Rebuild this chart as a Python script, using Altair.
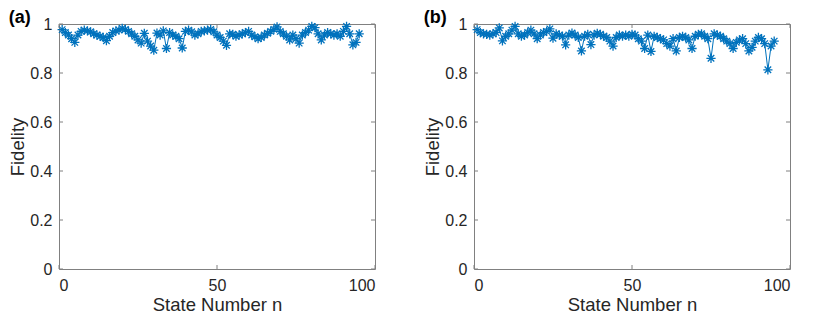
import altair as alt
import pandas as pd

# ---------------- data ----------------
n_a = list(range(1, 96))
fid_a = [0.977, 0.965, 0.955, 0.940, 0.925, 0.955, 0.970, 0.975, 0.972, 0.968,
         0.960, 0.955, 0.950, 0.945, 0.932, 0.950, 0.965, 0.972, 0.975, 0.982,
         0.978, 0.970, 0.960, 0.950, 0.935, 0.922, 0.962, 0.930, 0.910, 0.893,
         0.963, 0.955, 0.972, 0.900, 0.965, 0.955, 0.950, 0.940, 0.902, 0.970,
         0.975, 0.968, 0.955, 0.960, 0.970, 0.972, 0.975, 0.978, 0.968, 0.955,
         0.945, 0.930, 0.913, 0.960, 0.958, 0.950, 0.955, 0.960, 0.965, 0.970,
         0.955, 0.948, 0.940, 0.945, 0.955, 0.962, 0.970, 0.978, 0.988, 0.970,
         0.960, 0.950, 0.935, 0.955, 0.940, 0.922, 0.955, 0.965, 0.975, 0.990,
         0.985, 0.960, 0.935, 0.955, 0.965, 0.960, 0.955, 0.960, 0.950, 0.970,
         0.990, 0.960, 0.915, 0.925, 0.960]

n_b = list(range(1, 96))
fid_b = [0.977, 0.965, 0.960, 0.958, 0.955, 0.960, 0.965, 0.984, 0.931, 0.950,
         0.960, 0.975, 0.990, 0.960, 0.950, 0.955, 0.965, 0.975, 0.960, 0.940,
         0.955, 0.965, 0.970, 0.980, 0.942, 0.960, 0.955, 0.950, 0.915, 0.955,
         0.963, 0.955, 0.945, 0.890, 0.950, 0.958, 0.916, 0.955, 0.962, 0.958,
         0.950, 0.945, 0.930, 0.910, 0.945, 0.955, 0.950, 0.955, 0.950, 0.958,
         0.955, 0.940, 0.930, 0.900, 0.955, 0.888, 0.950, 0.945, 0.940, 0.935,
         0.920, 0.910, 0.940, 0.890, 0.945, 0.950, 0.945, 0.935, 0.900, 0.950,
         0.958, 0.960, 0.950, 0.940, 0.860, 0.960, 0.955, 0.950, 0.940, 0.930,
         0.920, 0.900, 0.925, 0.935, 0.940, 0.920, 0.890, 0.905, 0.930, 0.945,
         0.940, 0.920, 0.813, 0.910, 0.930]

x_ticks = [0, 50, 100]
y_ticks = [0, 0.2, 0.4, 0.6, 0.8, 1]
panel_titles = ["(a)", "(b)"]
x_title = "State Number n"
y_title = "Fidelity"

# ---------------- style ----------------
W, H = 316, 245
BLUE = "#0072BD"
AX = "#808080"
TXT = "#262626"
FONT = "Liberation Sans"
STAR = ("M0,-1L0,1M-1,0L1,0M-0.7071,-0.7071L0.7071,0.7071"
        "M-0.7071,0.7071L0.7071,-0.7071")
TICK = 4

axis_common = dict(
    domain=False, ticks=False, grid=False,
    labelFont=FONT, labelFontSize=16, labelColor=TXT,
    titleFont=FONT, titleFontSize=18.5, titleFontWeight="normal", titleColor=TXT,
)

xs = alt.Scale(domain=[0, 100], nice=False)
ys = alt.Scale(domain=[0, 1], nice=False)
x_axis = alt.Axis(values=x_ticks, title=x_title, labelPadding=8, titlePadding=2,
                  **axis_common)
y_axis = alt.Axis(values=y_ticks, format="~g", title=y_title,
                  labelPadding=7, titlePadding=2, **axis_common)


def X(field):
    return alt.X(field, type="quantitative", scale=xs, axis=x_axis)


def Y(field):
    return alt.Y(field, type="quantitative", scale=ys, axis=y_axis)


def panel(ns, fs, title):
    df = pd.DataFrame({"n": ns, "f": fs})
    base = alt.Chart(df)
    line = base.mark_line(color=BLUE, strokeWidth=1).encode(x=X("n"), y=Y("f"))
    pts = base.mark_point(shape=STAR, size=85, color=BLUE, filled=False,
                          strokeWidth=1.3, opacity=1).encode(x=X("n"), y=Y("f"))
    xt = alt.Chart(pd.DataFrame({"t": x_ticks}))
    yt = alt.Chart(pd.DataFrame({"t": y_ticks}))
    xb = xt.mark_rule(color=AX, strokeWidth=1).encode(
        x=X("t"), y=alt.value(H), y2=alt.value(H - TICK))
    xtop = xt.mark_rule(color=AX, strokeWidth=1).encode(
        x=X("t"), y=alt.value(0), y2=alt.value(TICK))
    yl = yt.mark_rule(color=AX, strokeWidth=1).encode(
        y=Y("t"), x=alt.value(0), x2=alt.value(TICK))
    yr = yt.mark_rule(color=AX, strokeWidth=1).encode(
        y=Y("t"), x=alt.value(W), x2=alt.value(W - TICK))
    return alt.layer(line, pts, xb, xtop, yl, yr).properties(
        width=W, height=H,
        title=alt.TitleParams(title, anchor="start", frame="bounds",
                              fontSize=18, fontWeight="bold", font=FONT,
                              color="#000000", offset=-11),
    )


chart = alt.hconcat(
    panel(n_a, fid_a, panel_titles[0]),
    panel(n_b, fid_b, panel_titles[1]),
    spacing=47,
).properties(padding=0, background="white").configure_view(
    stroke=AX, strokeWidth=1
)

chart.save("out.html", embed_options={"renderer": "svg", "actions": False})
